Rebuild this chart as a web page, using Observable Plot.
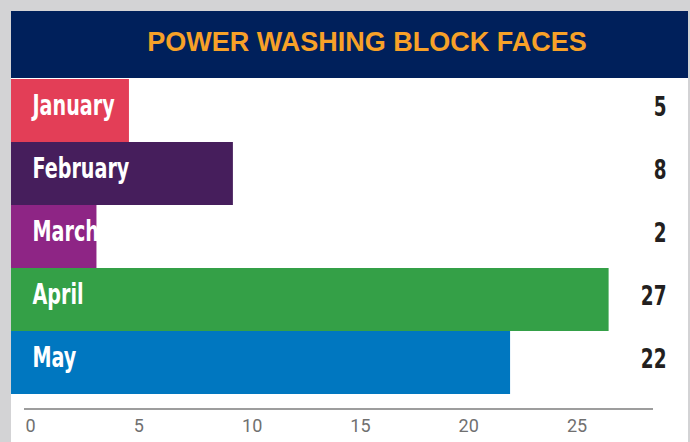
<!DOCTYPE html>
<html><head><meta charset="utf-8">
<script src="https://cdn.jsdelivr.net/npm/d3@7"></script>
<script src="https://cdn.jsdelivr.net/npm/@observablehq/plot@0.6"></script>
<style>
html,body{margin:0;padding:0;background:#d3d3d5;width:690px;height:442px;overflow:hidden}
#panel{position:absolute;left:11px;top:11px;width:677px;height:431px;background:#fff}
#title{height:67px;box-sizing:border-box;background:#00205b;color:#f7a128;font:bold 27px "Liberation Sans",Arial,sans-serif;display:flex;align-items:center;justify-content:center;padding-left:35px;padding-bottom:5px}
#chart svg{display:block}
</style>
</head><body>
<div id="panel"><div id="title">POWER WASHING BLOCK FACES</div><div id="chart"></div></div>
<script>
const months = ["January", "February", "March", "April", "May"];
const counts = [5, 8, 2, 27, 22];
const barLengths = [4.8, 9.6, 3.3, 26.95, 22.4];
const colors = ["#e33e57", "#461e5c", "#8e2585", "#34a047", "#0077c0"];
const ticks = [0, 5, 10, 15, 20, 25];
const axisMax = 29;
const barStart = -0.646;

const data = months.map((m, i) => ({month: m, count: counts[i], len: barLengths[i]}));
const cond = "'Liberation Sans Narrow','DejaVu Sans Condensed',sans-serif";

const axisLine = (index, scales, values, dims) => {
  const ns = "http://www.w3.org/2000/svg";
  const l = document.createElementNS(ns, "line");
  const y = dims.height - dims.marginBottom;
  l.setAttribute("x1", scales.x(0) - 1);
  l.setAttribute("x2", scales.x(axisMax));
  l.setAttribute("y1", y);
  l.setAttribute("y2", y);
  l.setAttribute("stroke", "#9d9d9d");
  l.setAttribute("stroke-width", 2);
  return l;
};

const plot = Plot.plot({
  width: 677, height: 364,
  marginLeft: 14, marginRight: 35, marginTop: 0, marginBottom: 33,
  x: {domain: [0, axisMax]},
  y: {domain: months, padding: 0, insetBottom: 14, axis: null},
  color: {domain: months, range: colors},
  style: {background: "transparent"},
  marks: [
    Plot.barX(data, {y: "month", x1: barStart, x2: "len", fill: "month"}),
    Plot.text(data, {y: "month", x: barStart, text: "month", textAnchor: "start", dx: 21, dy: -5,
      fill: "white", fontSize: 28, fontWeight: "bold", fontFamily: cond}),
    Plot.text(data, {y: "month", frameAnchor: "right", text: d => String(d.count), textAnchor: "end", dx: 13, dy: -4,
      fill: "#231f20", fontSize: 27, fontWeight: "bold", fontFamily: cond}),
    axisLine,
    Plot.axisX({ticks, tickSize: 0, tickPadding: 10, textAnchor: "start", fontSize: 18, fill: "#707070",
      fontFamily: "Roboto, sans-serif", label: null, tickFormat: d => String(d)})
  ]
});
document.getElementById("chart").appendChild(plot);
// condense the bold labels horizontally (no narrow face installed)
plot.querySelectorAll('g[font-weight="bold"] text').forEach(t => {
  const w = t.getComputedTextLength();
  t.setAttribute("textLength", (w * 0.76).toFixed(1));
  t.setAttribute("lengthAdjust", "spacingAndGlyphs");
});
</script>
</body></html>
